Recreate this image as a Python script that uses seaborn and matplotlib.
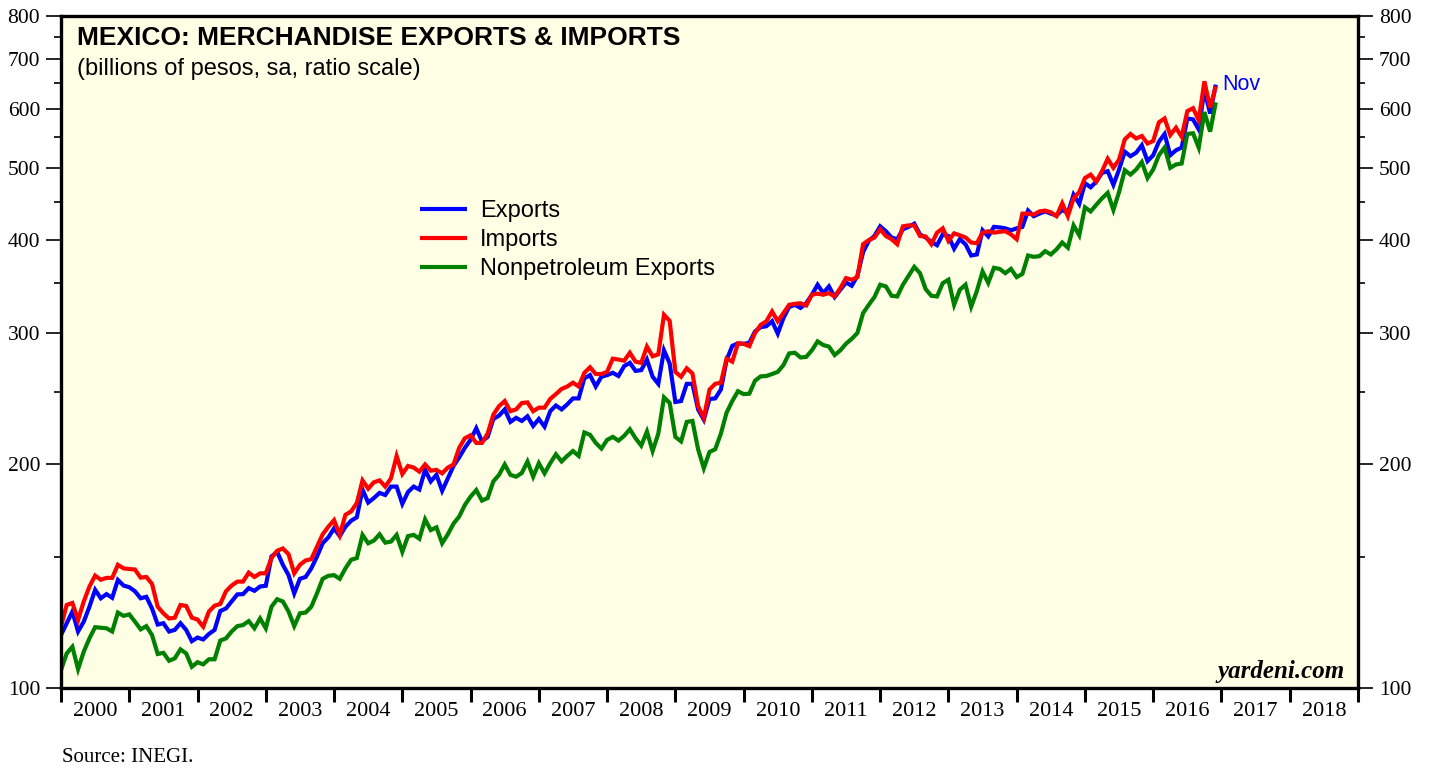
import numpy as np
import pandas as pd
import matplotlib
matplotlib.use("Agg")
import matplotlib.pyplot as plt
import seaborn as sns
from matplotlib.ticker import FixedLocator, FixedFormatter, NullFormatter

# ---------------- data (billions of pesos, sa), monthly, first point at 2000.0 ----------------
exports = [117.8, 122.2, 126.7, 119.1, 122.8, 128.6, 135.5, 132.0, 133.7, 132.2, 139.7, 137.3,
           136.6, 134.9, 132.0, 132.6, 127.9, 121.7, 122.2, 119.1, 119.7, 122.2, 119.7, 115.6,
           116.9, 116.2, 118.2, 119.7, 126.9, 127.9, 130.7, 133.6, 133.7, 136.2, 135.1, 136.9,
           137.2, 150.2, 152.4, 146.4, 141.8, 134.0, 140.2, 141.0, 144.8, 150.2, 156.5, 159.4,
           163.9, 160.0, 164.7, 167.8, 169.6, 184.8, 177.5, 180.0, 182.9, 181.7, 186.5, 186.5,
           176.8, 183.4, 186.5, 184.8, 196.4, 189.5, 193.4, 184.1, 191.3, 198.8, 204.2, 210.3,
           215.5, 223.4, 214.5, 217.5, 229.9, 232.3, 236.8, 227.8, 230.7, 228.5, 231.8, 225.0,
           229.9, 224.5, 235.5, 239.7, 236.8, 240.6, 245.0, 245.0, 260.7, 263.3, 254.2, 262.0,
           263.3, 265.2, 262.6, 270.8, 273.5, 266.8, 267.4, 276.3, 262.0, 256.3, 284.3, 273.0,
           242.3, 243.0, 256.3, 256.3, 236.8, 229.4, 244.6, 245.0, 251.8, 275.8, 288.2, 290.5,
           290.1, 291.0, 301.4, 305.5, 306.3, 311.1, 299.4, 314.2, 325.1, 327.3, 324.2, 328.9,
           337.7, 348.3, 339.4, 346.5, 335.3, 342.9, 350.7, 347.2, 358.0, 385.4, 398.9, 405.1,
           417.3, 411.0, 403.1, 401.0, 413.5, 416.6, 420.7, 407.0, 403.1, 397.7, 393.6, 407.0,
           405.0, 389.4, 401.0, 394.8, 381.3, 382.5, 412.2, 404.5, 416.6, 415.9, 414.7, 412.2,
           414.7, 416.6, 438.1, 430.6, 434.0, 437.0, 434.0, 431.5, 439.0, 434.8, 460.3, 447.3,
           476.9, 470.9, 479.3, 492.3, 494.9, 474.4, 497.5, 525.8, 518.4, 524.0, 536.3, 510.6,
           520.0, 542.2, 555.3, 520.0, 528.0, 532.4, 582.7, 581.0, 563.2, 636.9, 591.6, 646.9]

imports = [120.9, 129.3, 130.1, 123.4, 130.7, 136.9, 141.6, 139.8, 140.6, 140.6, 146.4, 144.8,
           144.5, 144.3, 140.7, 141.0, 138.0, 128.6, 126.0, 124.0, 124.3, 129.3, 128.9, 124.3,
           123.6, 120.9, 126.7, 129.0, 129.7, 134.9, 137.3, 139.0, 139.0, 142.9, 141.0, 142.6,
           142.6, 149.5, 152.9, 154.0, 151.3, 142.6, 146.4, 148.4, 149.0, 154.8, 160.9, 164.7,
           168.1, 160.6, 170.9, 172.7, 177.2, 190.1, 185.3, 189.0, 190.1, 186.5, 191.3, 205.0,
           193.9, 198.8, 197.8, 195.3, 199.7, 195.9, 196.4, 194.3, 197.8, 199.7, 210.3, 216.6,
           218.6, 213.5, 213.5, 219.7, 233.0, 239.2, 243.0, 235.5, 236.8, 241.5, 242.0, 235.5,
           238.1, 238.1, 244.6, 248.3, 252.3, 254.2, 257.2, 254.2, 265.2, 269.8, 264.2, 264.2,
           266.0, 277.1, 276.3, 275.3, 282.2, 274.5, 273.5, 287.6, 279.1, 280.8, 317.4, 311.4,
           266.0, 262.0, 268.9, 264.7, 239.2, 230.7, 251.8, 256.3, 257.2, 277.1, 274.5, 290.5,
           290.1, 288.0, 300.0, 307.6, 311.1, 320.6, 311.1, 319.0, 327.3, 328.3, 328.9, 326.6,
           337.7, 338.8, 337.7, 339.4, 335.9, 344.7, 355.5, 353.7, 356.6, 394.8, 399.9, 403.1,
           413.5, 405.0, 401.0, 394.8, 417.3, 418.5, 418.5, 405.0, 404.3, 394.8, 409.2, 414.7,
           398.9, 408.3, 405.9, 403.1, 396.9, 396.0, 409.2, 411.0, 409.2, 410.3, 411.0, 407.0,
           401.0, 434.0, 434.0, 432.8, 437.0, 438.1, 435.8, 430.6, 448.2, 430.6, 455.1, 464.1,
           484.5, 489.7, 479.3, 494.9, 514.3, 500.1, 513.1, 546.1, 555.3, 547.7, 551.8, 539.2,
           543.5, 575.7, 582.7, 553.5, 566.2, 550.6, 596.0, 601.5, 579.7, 653.7, 602.4, 643.6]

nonpetroleum = [105.7, 111.3, 113.6, 106.0, 111.9, 116.6, 120.7, 120.5, 120.3, 119.1, 126.3, 125.0,
                125.6, 122.8, 119.9, 121.1, 117.8, 111.1, 111.5, 108.8, 109.6, 112.7, 111.3, 106.8,
                108.3, 107.6, 109.3, 109.3, 115.8, 116.6, 119.1, 121.1, 121.5, 123.0, 120.3, 124.0,
                120.3, 128.6, 131.6, 130.7, 126.7, 121.1, 126.0, 126.3, 128.6, 134.0, 140.2, 141.5,
                141.8, 140.2, 144.8, 148.7, 149.5, 160.6, 156.5, 157.8, 160.9, 156.8, 157.3, 160.6,
                152.4, 160.0, 160.6, 158.7, 168.5, 163.0, 164.4, 156.5, 160.9, 166.3, 170.0, 176.2,
                180.8, 184.5, 178.6, 180.0, 189.5, 193.4, 199.7, 193.4, 192.3, 194.5, 201.5, 192.3,
                200.5, 194.3, 200.5, 206.1, 201.6, 205.1, 208.2, 205.1, 220.5, 218.9, 213.5, 209.8,
                215.5, 217.5, 215.0, 218.2, 222.7, 216.6, 211.7, 221.1, 208.2, 219.7, 245.8, 241.6,
                217.5, 214.5, 227.8, 228.5, 209.3, 197.4, 207.6, 209.3, 219.7, 234.4, 243.0, 250.5,
                248.3, 248.6, 258.8, 262.3, 262.6, 264.2, 266.0, 271.6, 281.6, 282.2, 278.1, 278.6,
                284.3, 292.3, 289.0, 287.6, 280.2, 284.3, 290.2, 294.6, 300.0, 319.0, 327.3, 335.3,
                348.3, 346.5, 336.6, 335.9, 348.3, 358.0, 368.1, 361.0, 343.6, 336.6, 335.9, 350.0,
                353.7, 327.3, 342.9, 348.3, 325.4, 341.6, 362.8, 350.3, 367.0, 365.8, 361.0, 365.8,
                356.6, 360.2, 381.3, 379.7, 380.5, 386.4, 382.5, 388.6, 396.9, 390.6, 418.5, 405.9,
                442.5, 437.0, 446.1, 455.1, 462.8, 439.0, 464.1, 496.4, 489.7, 497.5, 509.1, 484.5,
                497.5, 520.0, 532.4, 500.1, 505.3, 506.8, 555.3, 556.6, 532.4, 594.3, 559.4, 612.4]

series_names = ["Exports", "Imports", "Nonpetroleum Exports"]
series_colors = ["#0000FF", "#FF0000", "#008000"]
year_labels = [str(y) for y in range(2000, 2019)]
y_major = [100, 200, 300, 400, 500, 600, 700, 800]
y_minor = [150, 250, 350, 450, 550, 650, 750]
first_year = 2000.0

# ---------------- build frame ----------------
n = len(exports)
t = first_year + np.arange(n) / 12.0
df = pd.DataFrame({
    "t": np.concatenate([t, t, t]),
    "value": exports + imports + nonpetroleum,
    "series": sum([[s] * n for s in series_names], []),
})

sns.set_theme(style="ticks")
plt.rcParams["font.family"] = ["Liberation Serif", "DejaVu Serif"]
for k in ["text.color", "axes.labelcolor", "xtick.color", "ytick.color", "axes.edgecolor"]:
    plt.rcParams[k] = "black"

W, H = 1430, 768
fig = plt.figure(figsize=(W / 100, H / 100), dpi=100)
fig.patch.set_facecolor("white")
ax = fig.add_axes([61 / W, 80 / H, 1297 / W, 672 / H])
ax.set_facecolor("#FFFFE6")

for name, col in zip(series_names, series_colors):
    sub = df[df["series"] == name]
    sns.lineplot(data=sub, x="t", y="value", color=col, linewidth=3.0, label=name, ax=ax,
                 solid_joinstyle="miter", solid_capstyle="butt")

ax.set_yscale("log")
ax.set_ylim(100, 800)
ax.set_xlim(2000, 2019)

# y ticks (both sides)
ax.yaxis.set_major_locator(FixedLocator(y_major))
ax.yaxis.set_major_formatter(FixedFormatter([str(v) for v in y_major]))
ax.yaxis.set_minor_locator(FixedLocator(y_minor))
ax.yaxis.set_minor_formatter(NullFormatter())
ax.tick_params(axis="y", which="major", direction="out", length=11, width=1.2,
               labelsize=15.5, pad=4, left=True, right=True, labelleft=True, labelright=True,
               colors="black")
ax.tick_params(axis="y", which="minor", direction="out", length=5, width=1.2,
               left=True, right=True, colors="black")

# x ticks: marks at years, labels mid-year
ax.xaxis.set_major_locator(FixedLocator(np.arange(2000, 2020)))
ax.xaxis.set_major_formatter(NullFormatter())
ax.xaxis.set_minor_locator(FixedLocator(np.arange(2000, 2019) + 0.5))
ax.xaxis.set_minor_formatter(FixedFormatter(year_labels))
ax.tick_params(axis="x", which="major", direction="out", length=10, width=2.2, bottom=True,
               colors="black")
ax.tick_params(axis="x", which="minor", length=0, labelsize=16, pad=10, colors="black")

for sp in ax.spines.values():
    sp.set_linewidth(2.4)
    sp.set_color("black")
    sp.set_visible(True)

ax.set_xlabel("")
ax.set_ylabel("")
ax.grid(False)

# title texts
ax.text(0.0125, 0.968, "MEXICO: MERCHANDISE EXPORTS & IMPORTS", transform=ax.transAxes,
        ha="left", va="center", fontsize=19, fontweight="bold", family="Liberation Sans",
        color="black")
ax.text(0.0125, 0.921, "(billions of pesos, sa, ratio scale)", transform=ax.transAxes,
        ha="left", va="center", fontsize=17, family="Liberation Sans", color="black")

# legend
leg = ax.legend(loc="upper left", bbox_to_anchor=((420 - 61) / 1297, 1 - (200 - 16) / 672),
                frameon=False, handlelength=2.0, handletextpad=0.55,
                labelspacing=0.3, borderpad=0, borderaxespad=0,
                prop={"family": "Liberation Sans", "size": 17})
for h in leg.get_lines():
    h.set_linewidth(3.0)
for txt in leg.get_texts():
    txt.set_color("black")

# Nov label
ax.annotate("Nov", xy=(t[-1], exports[-1]), xytext=(5, 0), textcoords="offset points",
            ha="left", va="center", color="#0000FF", fontsize=15.5, family="Liberation Sans")

# watermark
ax.text(0.990, 0.024, "yardeni.com", transform=ax.transAxes, ha="right", va="center",
        fontsize=18, fontweight="bold", style="italic", family="Liberation Serif",
        color="black")

# source
fig.text(62 / W, 1 - 757 / H, "Source: INEGI.", ha="left", va="center", fontsize=15,
         family="Liberation Serif", color="black")

fig.savefig("out.png", dpi=100, facecolor="white")
